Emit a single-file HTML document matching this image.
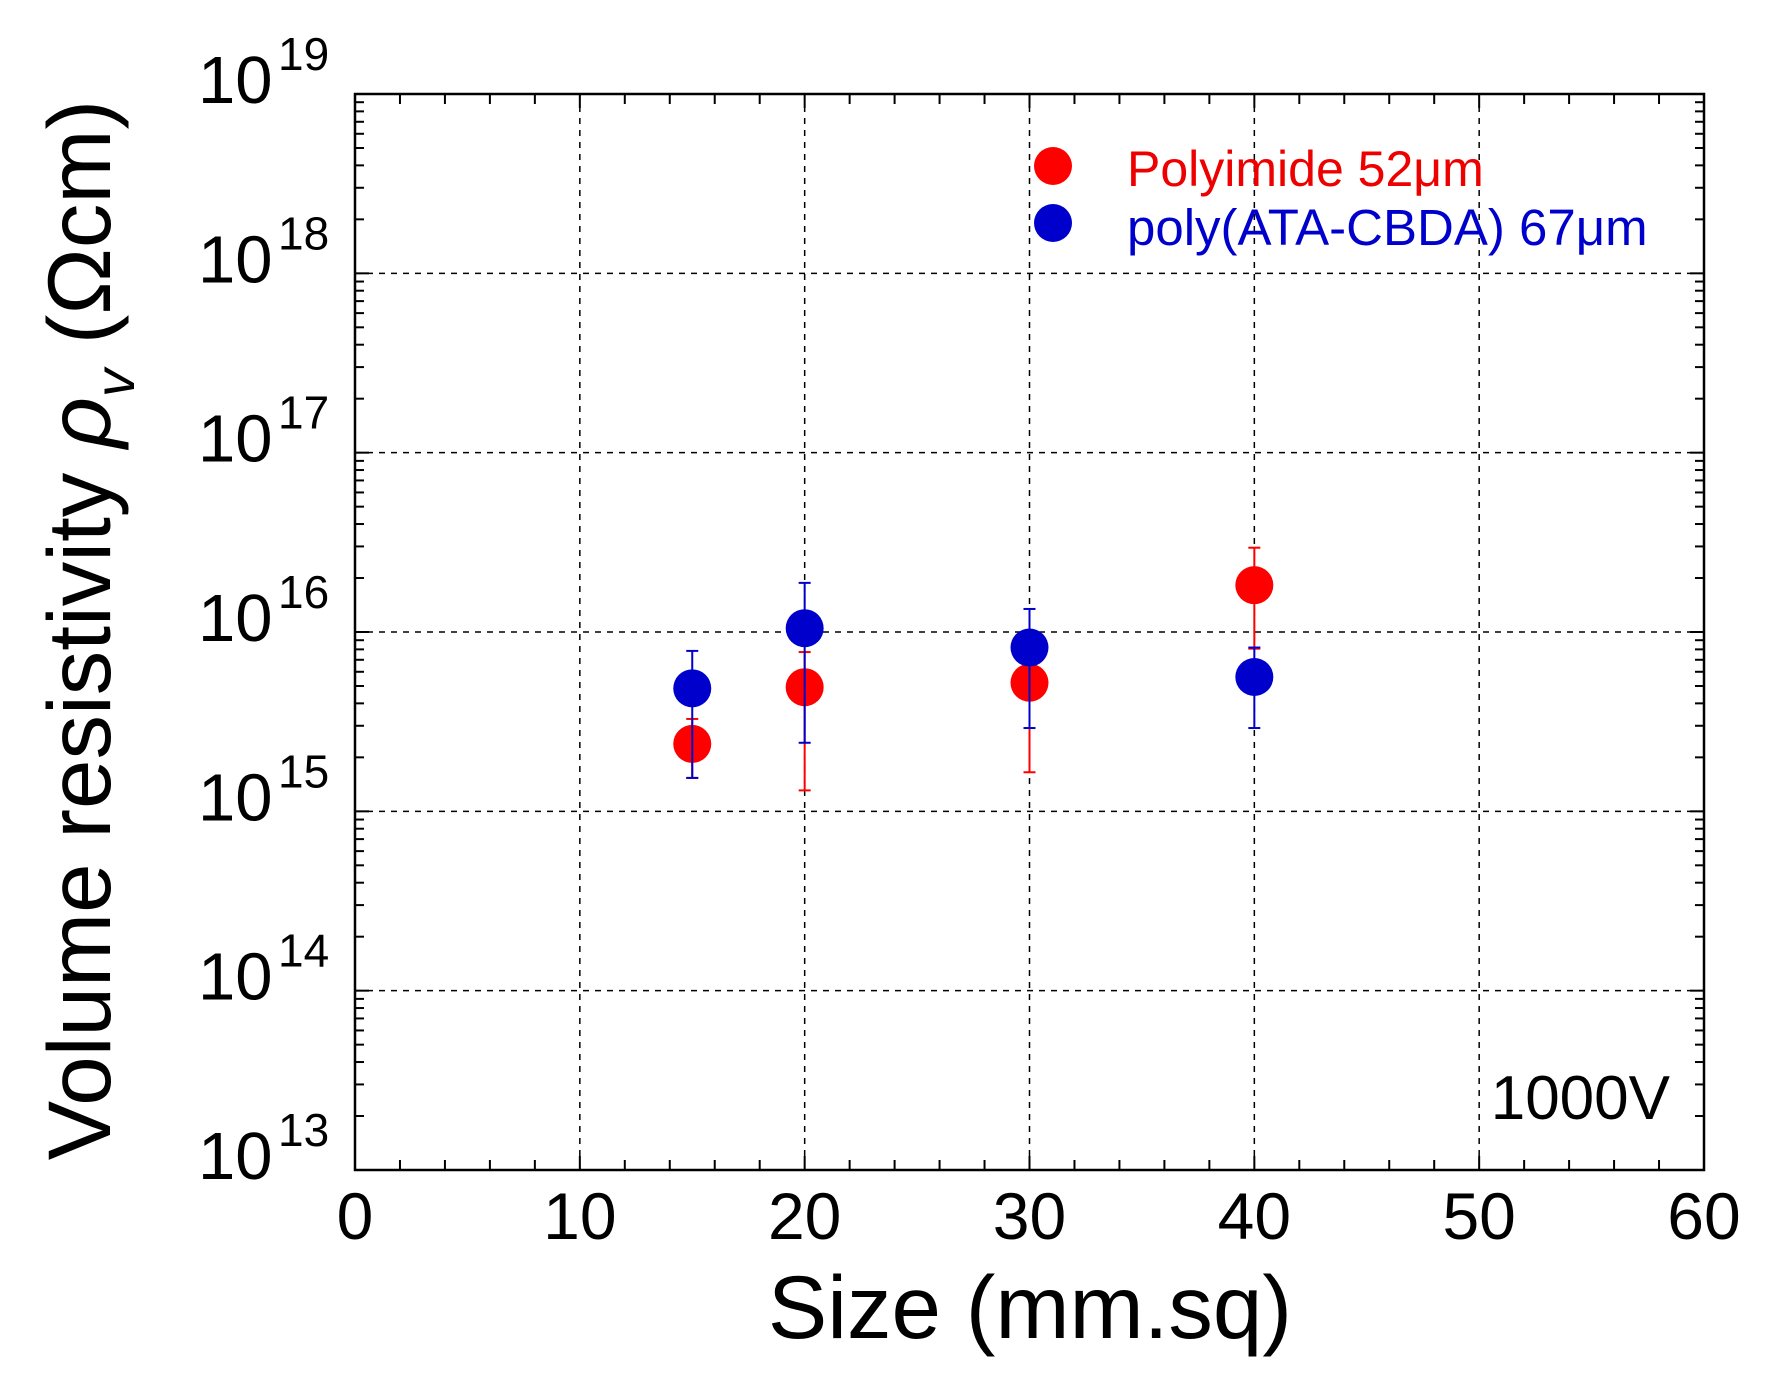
<!DOCTYPE html>
<html><head><meta charset="utf-8"><style>
html,body{margin:0;padding:0;background:#fff;width:1769px;height:1383px;overflow:hidden}
svg{display:block}
text{font-family:"Liberation Sans",sans-serif}
</style></head><body>
<svg id="s" width="1769" height="1383" xmlns="http://www.w3.org/2000/svg"></svg>
<script>
const L=355,R=1704,T=94,B=1170;
const X=v=>L+(R-L)*v/60;
const Y=lg=>B-(B-T)*(lg-13)/6;
let h='';
for(let v=10;v<=50;v+=10)h+=`<line x1="${X(v)}" y1="${T}" x2="${X(v)}" y2="${B}" stroke="#000" stroke-width="1.5" stroke-dasharray="6,6"/>`;
for(let d=14;d<=18;d++)h+=`<line x1="${L}" y1="${Y(d)}" x2="${R}" y2="${Y(d)}" stroke="#000" stroke-width="1.5" stroke-dasharray="6,6"/>`;
for(let v=0;v<=60;v+=2){let len=v%10==0?14:10;
h+=`<line x1="${X(v)}" y1="${B}" x2="${X(v)}" y2="${B-len}" stroke="#000" stroke-width="2"/>`;
h+=`<line x1="${X(v)}" y1="${T}" x2="${X(v)}" y2="${T+len}" stroke="#000" stroke-width="2"/>`;}
for(let d=13;d<19;d++)for(let k=1;k<10;k++){let y=Y(d+Math.log10(k));let len=k==1?14:9;
h+=`<line x1="${L}" y1="${y}" x2="${L+len}" y2="${y}" stroke="#000" stroke-width="2"/>`;
h+=`<line x1="${R}" y1="${y}" x2="${R-len}" y2="${y}" stroke="#000" stroke-width="2"/>`;}
h+=`<rect x="${L}" y="${T}" width="${R-L}" height="${B-T}" fill="none" stroke="#000" stroke-width="2.5"/>`;
for(let d=13;d<=19;d++){let g=Y(d);
h+=`<text x="198" y="${g+9}" font-size="67">10</text><text x="278" y="${g-24}" font-size="46">${d}</text>`;}
for(let v=0;v<=60;v+=10)h+=`<text x="${X(v)}" y="1239" font-size="66" text-anchor="middle">${v}</text>`;
h+=`<text x="1030" y="1338" font-size="89" text-anchor="middle">Size (mm.sq)</text>`;
h+=`<text transform="translate(110,630) rotate(-90)" font-size="89" text-anchor="middle">Volume resistivity <tspan font-style="italic">ρ</tspan><tspan font-size="56" font-style="italic" dy="24">v</tspan><tspan dy="-24"> (Ωcm)</tspan></text>`;
h+=`<text x="1670" y="1119" font-size="62" text-anchor="end">1000V</text>`;
const s=1.134;
const red=[[15,656,634,686],[20,606,575,697],[30,602,565,681],[40,516,483,572]];
const blue=[[15,607,574,686],[20,554,514,655],[30,571,537,642],[40,597,571,642]];
function ser(arr,c){let o='';for(const [v,cy,a,b] of arr){const x=X(v);
o+=`<line x1="${x}" y1="${a*s}" x2="${x}" y2="${b*s}" stroke="${c}" stroke-width="2"/>`;
o+=`<line x1="${x-6}" y1="${a*s}" x2="${x+6}" y2="${a*s}" stroke="${c}" stroke-width="2"/>`;
o+=`<line x1="${x-6}" y1="${b*s}" x2="${x+6}" y2="${b*s}" stroke="${c}" stroke-width="2"/>`;}
for(const [v,cy] of arr)o+=`<circle cx="${X(v)}" cy="${cy*s}" r="19" fill="${c}"/>`;return o;}
h+=ser(red,'#f00')+ser(blue,'#00c');
h+=`<circle cx="1053" cy="166" r="19" fill="#f00"/><text x="1127" y="186" font-size="50" fill="#e00">Polyimide 52μm</text>`;
h+=`<circle cx="1053" cy="223" r="19" fill="#00c"/><text x="1127" y="245" font-size="51" fill="#00c">poly(ATA-CBDA) 67μm</text>`;
document.getElementById('s').innerHTML=h;
</script>
</body></html>
